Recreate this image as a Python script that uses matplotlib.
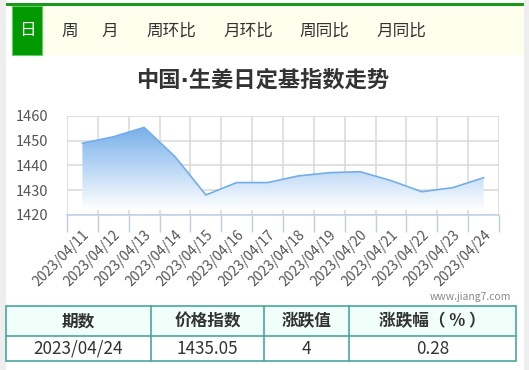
import numpy as np
import matplotlib
matplotlib.use('Agg')
import matplotlib.pyplot as plt
from matplotlib.patches import Rectangle
from matplotlib.colors import LinearSegmentedColormap

plt.rcParams['font.family'] = ['Noto Sans CJK SC', 'DejaVu Sans']

# data
dates = ['2023/04/11', '2023/04/12', '2023/04/13', '2023/04/14', '2023/04/15',
         '2023/04/16', '2023/04/17', '2023/04/18', '2023/04/19', '2023/04/20',
         '2023/04/21', '2023/04/22', '2023/04/23', '2023/04/24']
index_vals = [1449.0, 1451.6, 1455.4, 1443.6, 1428.1, 1433.1, 1433.1,
              1435.8, 1437.1, 1437.5, 1433.9, 1429.4, 1431.05, 1435.05]
yticks = [1420, 1430, 1440, 1450, 1460]
tabs = ['日', '周', '月', '周环比', '月环比', '周同比', '月同比']
table_head = ['期数', '价格指数', '涨跌值', '涨跌幅（ % ）']
table_row = ['2023/04/24', '1435.05', '4', '0.28']

W, H = 529, 370
fig = plt.figure(figsize=(W / 100, H / 100), dpi=100)
fig.patch.set_facecolor('white')

def fx(x):
    return x / W

def fy(y):
    return 1 - y / H

def rect(x0, y0, x1, y1, **kw):
    fig.add_artist(Rectangle((fx(x0), fy(y1)), fx(x1) - fx(x0), fy(y0) - fy(y1),
                             transform=fig.transFigure, **kw))

# side strips
rect(0, 0, 6, H, facecolor='#eeeeee', edgecolor='none')
rect(524, 0, W, H, facecolor='#eeeeee', edgecolor='none')

# tab bar
rect(6, 3.3, 524, 5.7, facecolor='#1a9a1a', edgecolor='none')
rect(42, 5.7, 524, 55, facecolor='#ffffee', edgecolor='none')
rect(12, 5.7, 42, 55, facecolor='#009900', edgecolor='#66cc66', linewidth=0.8)
tab_x = [27, 70, 110, 171, 248, 324, 401]
for i, t in enumerate(tabs):
    fig.text(fx(tab_x[i]), fy(31), t, ha='center', va='center', fontsize=12,
             color='white' if i == 0 else '#333333')

# title (DejaVu first so the middle dot stays narrow)
fig.text(fx(263), fy(80), '中国·生姜日定基指数走势', ha='center', va='center',
         fontsize=16, fontweight='bold', color='#333333',
         family=['DejaVu Sans', 'Noto Sans CJK SC'])

# chart
ax = fig.add_axes([fx(67), fy(215), fx(499) - fx(67), fy(116) - fy(215)])
x = np.arange(len(dates))
ax.set_xlim(-0.5, len(dates) - 0.5)
ax.set_ylim(1420, 1460)

# gradient fill under the line
blue = (0.47, 0.69, 0.92)
cmap = LinearSegmentedColormap.from_list('g', [(1, 1, 1), blue])
grad = np.linspace(0, 1, 200).reshape(-1, 1)
img = ax.imshow(grad, cmap=cmap, aspect='auto', origin='lower',
                extent=[x[0], x[-1], 1422, max(index_vals)], zorder=1, vmin=0, vmax=1.0)
poly = ax.fill_between(x, index_vals, 1422, facecolor='none', edgecolor='none')
img.set_clip_path(poly.get_paths()[0], transform=ax.transData)
ax.plot(x, index_vals, color='#74aee8', linewidth=1.2, zorder=3)

ax.set_yticks(yticks)
ax.set_xticks(x)
ax.set_xticklabels(dates, rotation=45, ha='right', va='top', rotation_mode='anchor')
ax.set_xticks(np.arange(len(dates) + 1) - 0.5, minor=True)
ax.tick_params(axis='x', which='major', length=0, pad=9, labelsize=10, colors='#555555')
ax.tick_params(axis='x', which='minor', length=12, width=1, color='#c0d0e0')
ax.tick_params(axis='y', length=0, pad=13.5, labelsize=10.5, colors='#555555')
ax.grid(axis='y', which='major', color='#d8d8d8', linewidth=1.1, zorder=0)
ax.grid(axis='x', which='minor', color='#d8d8d8', linewidth=1.1, zorder=0)
for s in ['top', 'right', 'left']:
    ax.spines[s].set_visible(False)
ax.spines['bottom'].set_color('#c0d0e0')
ax.spines['bottom'].set_linewidth(1.1)
ax.set_axisbelow(True)

# watermark
fig.text(fx(470), fy(297), 'www.jiang7.com', ha='center', va='center',
         fontsize=7.5, color='#888888')

# table
border = '#4aa69e'
rect(6, 306, 516, 336, facecolor='#f0fff9', edgecolor='none')
rect(6, 306, 516, 361, facecolor='none', edgecolor=border, linewidth=1.2)
fig.add_artist(plt.Line2D([fx(6), fx(516)], [fy(336), fy(336)], color=border,
                          linewidth=1.2, transform=fig.transFigure))
cols = [6, 151, 264, 349, 516]
for c in cols[1:-1]:
    fig.add_artist(plt.Line2D([fx(c), fx(c)], [fy(306), fy(361)], color=border,
                              linewidth=1.2, transform=fig.transFigure))
for i in range(4):
    cx = (cols[i] + cols[i + 1]) / 2
    fig.text(fx(cx), fy(321), table_head[i], ha='center', va='center',
             fontsize=12, fontweight='bold', color='#333333')
    fig.text(fx(cx), fy(348.5), table_row[i], ha='center', va='center',
             fontsize=12.3, color='#333333')

fig.savefig('out.png', dpi=100)
